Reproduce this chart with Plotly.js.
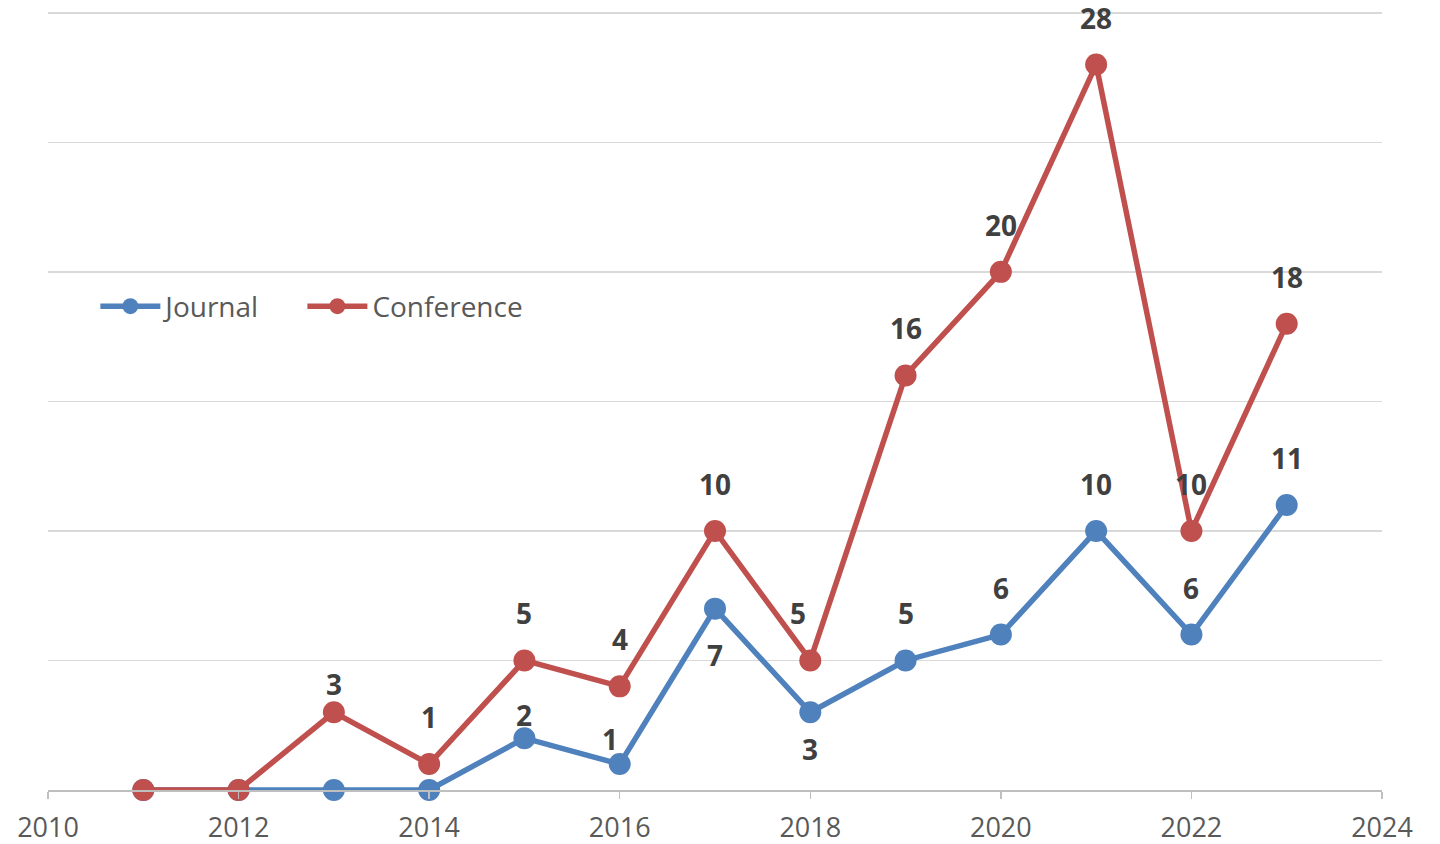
<!DOCTYPE html>
<html>
<head>
<meta charset="utf-8">
<script src="https://cdn.plot.ly/plotly-3.0.1.min.js"></script>
<style>html,body{margin:0;padding:0;background:#fff;}#chart{width:1440px;height:844px;}</style>
</head>
<body>
<div id="chart"></div>
<script>
// ---- data ----
const years = [2011, 2012, 2013, 2014, 2015, 2016, 2017, 2018, 2019, 2020, 2021, 2022, 2023];
const journal = [0, 0, 0, 0, 2, 1, 7, 3, 5, 6, 10, 6, 11];
const conference = [0, 0, 3, 1, 5, 4, 10, 5, 16, 20, 28, 10, 18];
const xTickYears = [2010, 2012, 2014, 2016, 2018, 2020, 2022, 2024];
const yGridVals = [0, 5, 10, 15, 20, 25, 30];

// ---- styling ----
const FONT = '"Open Sans", "Noto Sans", sans-serif';
const BLUE = '#4F81BD';
const RED = '#C0504D';

// label offsets (px) per series, per year; default above the point
const defaultShift = 47;
const journalShift = {2015: [0, 23], 2016: [-10, 25], 2017: [0, -46], 2018: [0, -37]};
const confShift = {2013: [0, 28], 2018: [-12, 47]};

function labels(vals, shifts) {
  const out = [];
  vals.forEach((v, i) => {
    if (v === 0) return;
    const s = shifts[years[i]] || [0, defaultShift];
    out.push({
      x: years[i], y: v, xref: 'x', yref: 'y', text: String(v), showarrow: false,
      xshift: s[0], yshift: s[1],
      font: {family: FONT, size: 28, color: '#404040', weight: 'bold'}
    });
  });
  return out;
}

const traces = [
  {x: years, y: journal, name: 'Journal', type: 'scatter', mode: 'lines+markers', legend: 'legend',
   line: {color: BLUE, width: 5.5}, marker: {color: BLUE, size: 22}, cliponaxis: false},
  {x: years, y: conference, name: 'Conference', type: 'scatter', mode: 'lines+markers', legend: 'legend2',
   line: {color: RED, width: 5.5}, marker: {color: RED, size: 22}, cliponaxis: false}
];

const legendStyle = {
  orientation: 'h', y: 0.616, xanchor: 'left', yanchor: 'middle', itemwidth: 60,
  font: {family: FONT, size: 28, color: '#595959'}, bgcolor: 'rgba(0,0,0,0)'
};

const layout = {
  width: 1440, height: 844,
  margin: {l: 48, r: 58, t: 5, b: 54},
  paper_bgcolor: '#fff', plot_bgcolor: '#fff',
  showlegend: true,
  legend: Object.assign({x: 0.0355}, legendStyle),
  legend2: Object.assign({x: 0.1907}, legendStyle),
  xaxis: {range: [2010, 2024], tickvals: xTickYears, ticktext: xTickYears.map(String),
          showgrid: false, zeroline: false, showline: true, linecolor: '#bfbfbf', linewidth: 1.5,
          ticks: 'outside', ticklen: 7, tickcolor: '#bfbfbf', tickwidth: 1.5, ticklabelstandoff: 6,
          tickfont: {family: FONT, size: 27, color: '#595959'}},
  yaxis: {range: [0, 30.3], tickvals: yGridVals, showticklabels: false,
          showgrid: true, gridcolor: '#d9d9d9', gridwidth: 1.5, zeroline: false, showline: false, ticks: ''},
  annotations: labels(journal, journalShift).concat(labels(conference, confShift))
};

Plotly.newPlot('chart', traces, layout, {displayModeBar: false, staticPlot: true});
</script>
</body>
</html>
